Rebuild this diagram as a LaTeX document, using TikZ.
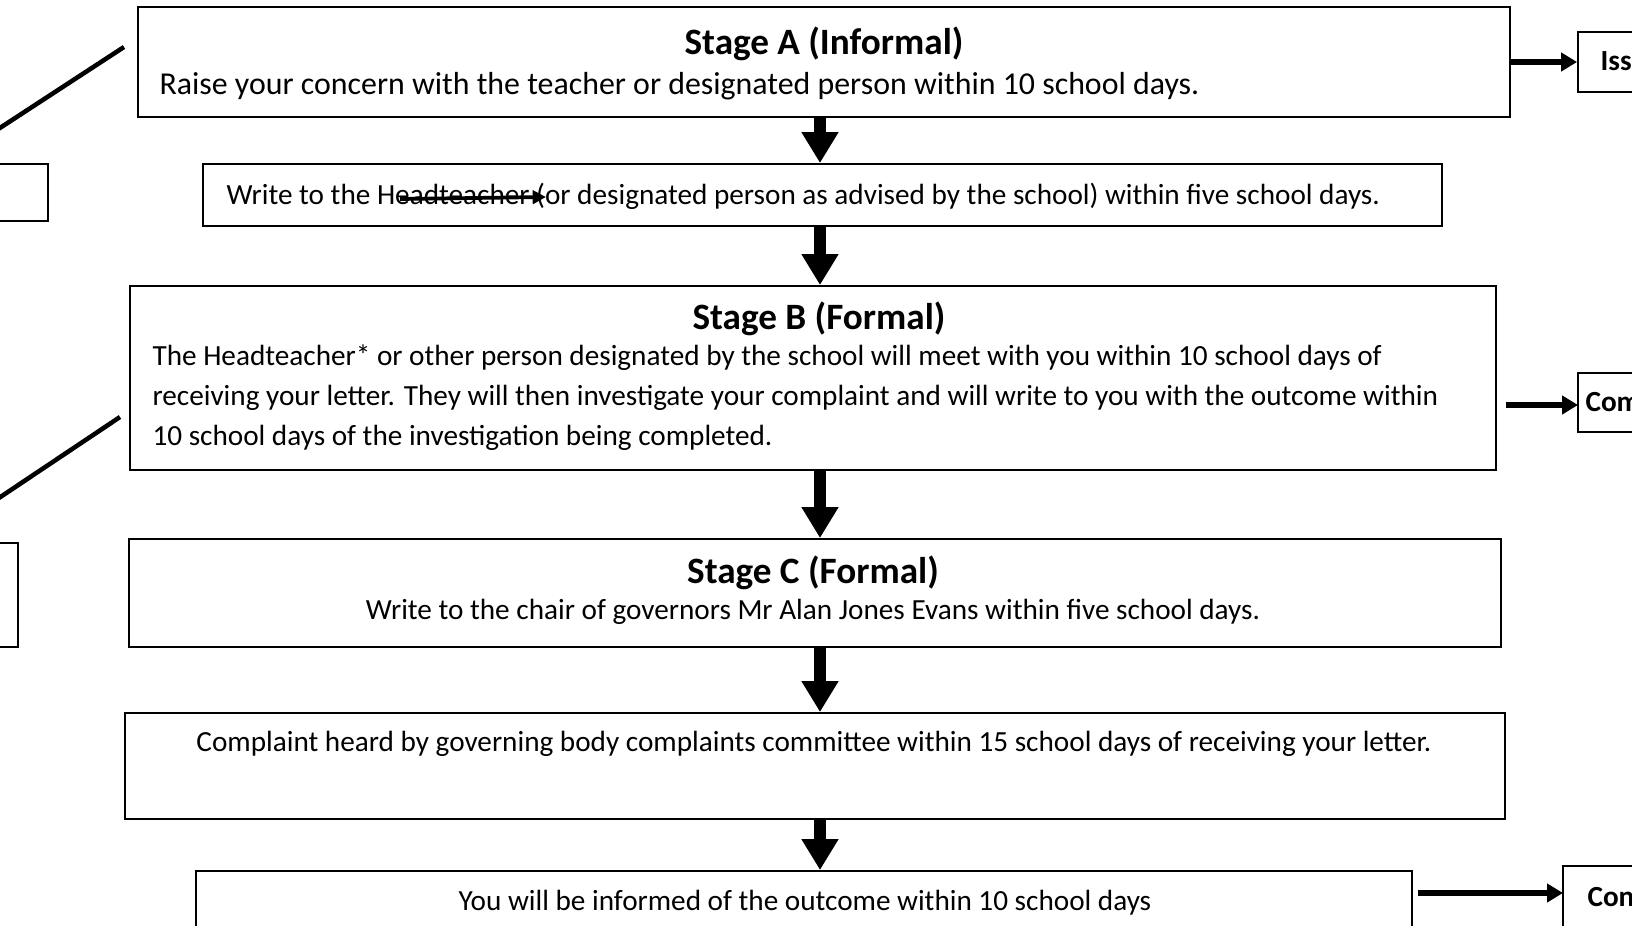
\documentclass[tikz,border=0pt]{standalone}
\usepackage{fontspec}
\setmainfont{Carlito}
\usetikzlibrary{arrows.meta,fit,positioning}

\tikzset{
  box/.style={draw, line width=0.7bp, inner sep=0pt},
  title/.style={font=\bfseries\fontsize{14}{17}\selectfont, inner sep=0pt},
  body/.style={font=\fontsize{11}{15.1}\selectfont, inner sep=0pt},
  bigbody/.style={font=\fontsize{12}{15}\selectfont, inner sep=0pt},
  sidelabel/.style={font=\bfseries\fontsize{11}{13}\selectfont, inner sep=0pt, anchor=west},
  downarrow/.style={line width=4.5bp, -{Triangle[length=11.6bp, width=13.1bp]}},
  sidearrow/.style={line width=2.4bp, -{Triangle[length=6bp, width=6.8bp]}},
  slash/.style={line width=1.7bp},
}

\begin{document}
\begin{tikzpicture}[x=0.375bp, y=-0.375bp]
  \useasboundingbox (0,0) rectangle (1632,926);
  % main column
  \node[box, fit={(138,7) (1510,117)}] (A) {};
  \node[box, fit={(203,164) (1442,226)}] (W) {};
  \node[box, fit={(130,286) (1496,470)}] (B) {};
  \node[box, fit={(129,539) (1501,647)}] (C) {};
  \node[box, fit={(125,713) (1505,819)}] (D) {};
  \node[box, fit={(196,871) (1412,970)}] (E) {};
  % boxes cut off at the edges
  \node[box, fit={(1578,32) (1700,92)}] (iss) {};
  \node[box, fit={(1578,373) (1700,432)}] (com) {};
  \node[box, fit={(1563,866) (1700,970)}] (con) {};
  \node[box, fit={(-80,164) (48,221)}] (left1) {};
  \node[box, fit={(-80,543) (18,647)}] (left2) {};
  %
  \node[title] (Atitle) at (824,44) {Stage A (Informal)};
  \node[bigbody, anchor=west] (Atext) at (159,86) {Raise your concern with the teacher or designated person within 10 school days.};
  \node[body, anchor=west] (Wtext) at (226,196) {Write to the Headteacher (or designated person as advised by the school) within five school days.};
  \node[title] (Btitle) at (819,319) {Stage B (Formal)};
  \node[body, anchor=west, align=left] (Btext) at (152,398) {The Headteacher* or other person designated by the school will meet with you within 10 school days of\\
    receiving your letter. They will then investigate your complaint and will write to you with the outcome within\\
    10 school days of the investigation being completed.};
  \node[title] (Ctitle) at (813,573) {Stage C (Formal)};
  \node[body] (Ctext) at (813,612) {Write to the chair of governors Mr Alan Jones Evans within five school days.};
  \node[body] (Dtext) at (814,744) {Complaint heard by governing body complaints committee within 15 school days of receiving your letter.};
  \node[body] (Etext) at (805,903) {You will be informed of the outcome within 10 school days};
  \node[sidelabel] (isstext) at (1600,61) {Iss};
  \node[sidelabel] (comtext) at (1585,402) {Com};
  \node[sidelabel] (context) at (1587,897) {Con};
  %
  \coordinate (spine) at (820,0);
  \foreach \u/\v in {A/W, W/B, B/C, C/D, D/E}
    \draw[downarrow] (\u.south -| spine) -- (\v.north -| spine);
  \coordinate (outB) at (1578,405);
  \coordinate (outE) at (1563,893);
  \draw[sidearrow] (A.east) -- (iss.west);
  \draw[sidearrow] ([xshift=3.4bp]B.east |- outB) -- (outB);
  \draw[sidearrow] ([xshift=2bp]E.east |- outE) -- (outE);
  % stray strokes
  \coordinate (s1a) at (-40,154);
  \coordinate (s1b) at (124,47);
  \coordinate (s2a) at (-40,524);
  \coordinate (s2b) at (120,417);
  \draw[slash] (s1a) -- (s1b);
  \draw[slash] (s2a) -- (s2b);
  \coordinate (h1) at (400,199);
  \coordinate (h2) at (546,197);
  \draw[line width=1.4bp, -{Triangle[length=5bp, width=5bp]}] (h1) -- (h2);
\end{tikzpicture}
\end{document}
